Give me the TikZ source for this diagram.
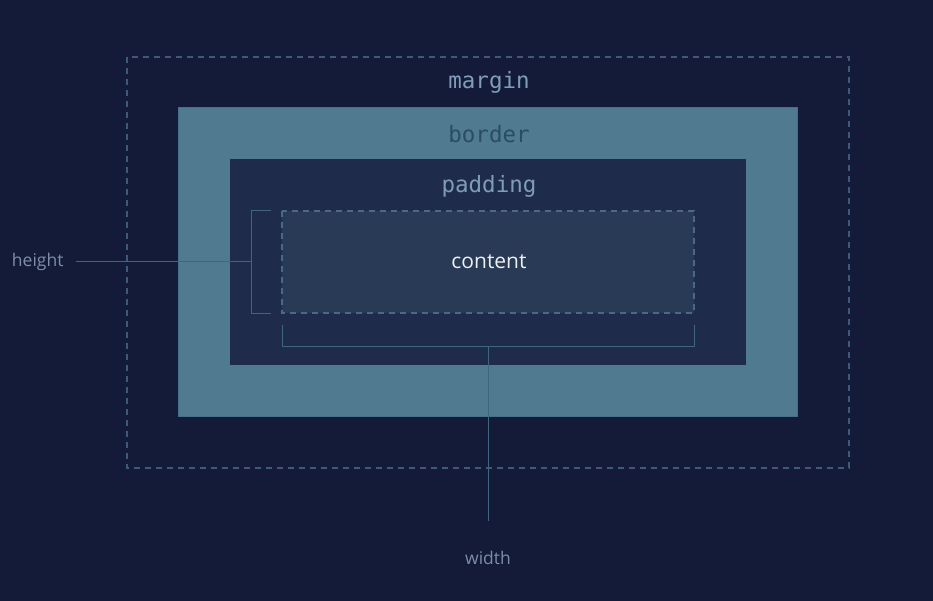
\documentclass[tikz,border=0pt]{standalone}
\usepackage{fontspec}
\setmainfont{Open Sans}
\newfontfamily\boxmono{DejaVu Sans Mono}
\definecolor{bgnavy}{HTML}{141B38}
\definecolor{marginline}{HTML}{3F5A78}
\definecolor{borderfill}{HTML}{4F7A8F}
\definecolor{borderedge}{HTML}{44708A}
\definecolor{paddingfill}{HTML}{1F2B4A}
\definecolor{contentfill}{HTML}{283A55}
\definecolor{contentedge}{HTML}{4A6A84}
\definecolor{monotext}{HTML}{7F9DB8}
\definecolor{bordertext}{HTML}{2A4B66}
\definecolor{dimtext}{HTML}{7C8EA8}
\definecolor{dimline}{HTML}{3E6680}
\tikzset{
  layerlabel/.style={font=\boxmono\fontsize{22.5}{26}\selectfont, color=monotext},
  dimlabel/.style={font=\fontsize{17.5}{20}\selectfont, color=dimtext},
  dimrule/.style={draw=dimline, line width=1pt}
}
\begin{document}
\begin{tikzpicture}[x=1pt, y=-1pt]
			% Draw the background
			\fill[bgnavy] (0, 0) rectangle (933, 601);
			\useasboundingbox (0, 0) rectangle (933, 601);

			% Draw the margin, border, padding and content boxes
			\draw[marginline, line width=1.1pt, dash pattern=on 6pt off 5pt] (127, 57) rectangle (849, 468);
			\filldraw[fill=borderfill, draw=borderedge, line width=1pt] (178, 108) rectangle (797, 416);
			\fill[paddingfill] (230, 159) rectangle (746, 365);
			\filldraw[fill=contentfill, draw=contentedge, line width=1.1pt, dash pattern=on 6pt off 5pt] (282, 211) rectangle (694, 313);

			% Draw the labels of the boxes
			\node[layerlabel] (margin) at (489, 82) {margin};
			\node[layerlabel, color=bordertext] (border) at (489, 134) {border};
			\node[layerlabel] (padding) at (489, 186) {padding};
			\node[font=\fontsize{21}{24}\selectfont, color=white!92!contentfill] (content) at (489, 262) {content};

			% Draw the height bracket
			\draw[dimrule] (271, 211) -- (251, 211) -- (251, 313) -- (271, 313);
			\coordinate (hmid) at (251, 262);
			\node[dimlabel, anchor=east] (height) at (67, 262) {height};
			\draw[dimrule] (76, 262) -- (hmid);

			% Draw the width bracket
			\draw[dimrule] (282, 325) -- (282, 346) -- (694, 346) -- (694, 325);
			\coordinate (wmid) at (488, 346);
			\node[dimlabel] (width) at (488, 558) {width};
			\draw[dimrule] (wmid) -- (488, 521);
		\end{tikzpicture}
\end{document}
